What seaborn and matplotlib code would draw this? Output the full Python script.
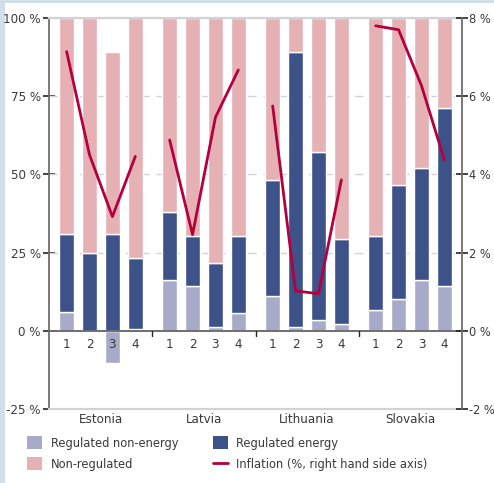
import numpy as np
import pandas as pd
import matplotlib
matplotlib.use("Agg")
import matplotlib.pyplot as plt
from matplotlib.patches import Patch, Rectangle
from matplotlib.lines import Line2D
import seaborn as sns

sns.set_theme(style="white")
plt.rcParams["font.family"] = ["DejaVu Sans"]
plt.rcParams["font.stretch"] = "condensed"

countries = ["Estonia", "Latvia", "Lithuania", "Slovakia"]
quarters = ["1", "2", "3", "4"]

# contribution to inflation, % (stacked bar segments)
regulated_non_energy = [6.1, 0.0, -10.3, 0.6, 16.3, 14.4, 1.3, 5.8,
                        11.2, 1.3, 3.5, 2.2, 6.7, 10.2, 16.3, 14.4]
regulated_energy = [24.9, 25.0, 31.0, 22.7, 21.7, 16.0, 20.4, 24.6,
                    37.0, 87.8, 53.7, 27.2, 23.7, 36.4, 35.8, 56.8]
non_regulated = [69.0, 75.0, 58.0, 76.7, 62.0, 69.6, 78.3, 69.6,
                 51.8, 10.9, 42.8, 70.6, 69.6, 53.4, 47.9, 28.8]
# inflation, % (right axis)
inflation = [7.14, 4.50, 2.92, 4.46, 4.88, 2.46, 5.46, 6.67,
             5.75, 1.02, 0.95, 3.86, 7.80, 7.70, 6.27, 4.37]

left_ticks = [-25, 0, 25, 50, 75, 100]
right_ticks = [-2, 0, 2, 4, 6, 8]

C_NONENERGY = "#a7aac8"
C_ENERGY = "#3d5289"
C_NONREG = "#e5b1b4"
C_LINE = "#b4003c"
C_TEXT = "#3a3a3a"
C_SPINE = "#6e6e6e"
C_LIGHT = "#d2d2d2"

group_gap = 4.5
pos = np.array([g * group_gap + q for g in range(4) for q in range(4)], dtype=float)

df = pd.DataFrame({
    "pos": pos,
    "country": np.repeat(countries, 4),
    "quarter": quarters * 4,
    "non_energy": regulated_non_energy,
    "energy": regulated_energy,
    "non_reg": non_regulated,
    "inflation": inflation,
})

fig = plt.figure(figsize=(4.94, 4.83), dpi=100)
fig.patch.set_facecolor("#d3deeb")
fig.add_artist(Rectangle((5 / 494, 0), 1, 1 - 3 / 483, transform=fig.transFigure,
                         facecolor="white", edgecolor="none", zorder=0))

ax = fig.add_axes([49 / 494, 1 - 409 / 483, (462 - 49) / 494, (409 - 18) / 483])
ax.set_facecolor("white")

w = 0.66
ne = df["non_energy"].to_numpy()
en = df["energy"].to_numpy()
nr = df["non_reg"].to_numpy()
ax.bar(df["pos"], ne, width=w, color=C_NONENERGY, zorder=2)
en_bottom = np.clip(ne, 0, None)
ax.bar(df["pos"], en, width=w, bottom=en_bottom, color=C_ENERGY, zorder=2)
ax.bar(df["pos"], nr, width=w, bottom=en_bottom + en, color=C_NONREG, zorder=2)

ax.set_ylim(-25, 100)
ax.set_xlim(-0.77, pos[-1] + 0.77)
ax.set_yticks(left_ticks)
ax.set_yticklabels([f"{t} %" for t in left_ticks])

for y in (25, 50, 75):
    ax.axhline(y, color=C_LIGHT, lw=1.0, ls=(0, (6, 5)), zorder=1)
ax.axhline(0, color=C_SPINE, lw=1.4, zorder=3)

# separators between country groups on the zero line
for s in (3.75, 8.25, 12.75):
    ax.plot([s, s], [0, -1.8], color="#222222", lw=1.0, zorder=3)

# quarter labels just below the zero line
for p, q in zip(df["pos"], df["quarter"]):
    ax.annotate(q, xy=(p, 0), xytext=(0, -5), textcoords="offset points",
                ha="center", va="top", fontsize=9.5, color=C_TEXT)

centers = [g * group_gap + 1.5 for g in range(4)]
ax.set_xticks(centers)
ax.set_xticklabels(countries)
ax.tick_params(axis="x", length=0, pad=3, labelsize=9.5, labelcolor=C_TEXT)
ax.tick_params(axis="y", direction="inout", length=8, width=1.2, color="#222222",
               labelsize=9.5, labelcolor=C_TEXT, pad=2)

for side in ("top", "bottom"):
    ax.spines[side].set_color(C_LIGHT)
    ax.spines[side].set_linewidth(1.6)
ax.spines["left"].set_color(C_SPINE)
ax.spines["left"].set_linewidth(1.3)
ax.spines["right"].set_visible(False)

ax2 = ax.twinx()
sns.lineplot(data=df, x="pos", y="inflation", units="country", estimator=None,
             color=C_LINE, lw=2.0, ax=ax2, zorder=4)
ax2.set_ylim(-2, 8)
ax2.set_yticks(right_ticks)
ax2.set_yticklabels([f"{t} %" for t in right_ticks])
ax2.set_xlabel("")
ax2.set_ylabel("")
ax.set_xlabel("")
ax2.tick_params(axis="y", direction="inout", length=8, width=1.2, color="#222222",
                labelsize=9.2, labelcolor=C_TEXT, pad=1)
for side in ("top", "bottom", "left"):
    ax2.spines[side].set_visible(False)
ax2.spines["right"].set_color(C_SPINE)
ax2.spines["right"].set_linewidth(1.3)

handles = [
    Patch(facecolor=C_NONENERGY, edgecolor="none", label="Regulated non-energy"),
    Patch(facecolor=C_NONREG, edgecolor="none", label="Non-regulated"),
    Patch(facecolor=C_ENERGY, edgecolor="none", label="Regulated energy"),
    Line2D([0], [0], color=C_LINE, lw=2.0, label="Inflation (%, right hand side axis)"),
]
leg = fig.legend(handles=handles, ncol=2, loc="upper left",
                 bbox_to_anchor=(27 / 494, 1 - 436 / 483), frameon=False,
                 borderpad=0, borderaxespad=0,
                 fontsize=9.2, handlelength=1.2, handleheight=1.2,
                 handletextpad=0.65, columnspacing=2.7, labelspacing=0.58)
for t in leg.get_texts():
    t.set_color(C_TEXT)

fig.savefig("out.png", dpi=100, facecolor=fig.get_facecolor())
